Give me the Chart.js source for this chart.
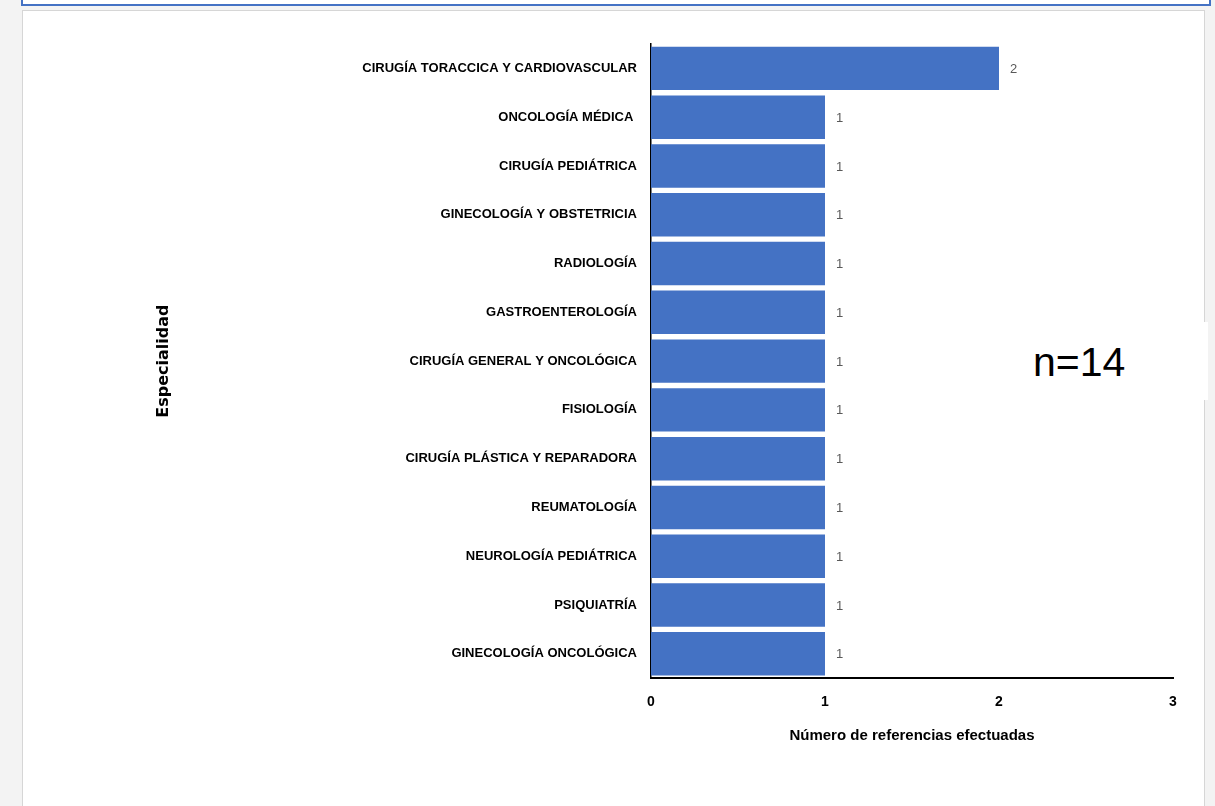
<!DOCTYPE html>
<html><head><meta charset="utf-8">
<script src="https://cdn.jsdelivr.net/npm/chart.js@4.4.0/dist/chart.umd.min.js"></script>
<style>
html,body{margin:0;padding:0;width:1215px;height:806px;overflow:hidden;background:#f3f3f3;}
#topbox{position:absolute;left:21px;top:-20px;width:1186px;height:22px;border:2px solid #4472C4;background:#fff;}
#panel{position:absolute;left:22px;top:10px;width:1181px;height:810px;background:#fff;border:1px solid #d6d6d6;}
#c{position:absolute;left:0;top:0;}
#nbox{position:absolute;left:1020px;top:322px;width:188px;height:78px;background:#fff;}
#ntext{position:absolute;left:1033px;top:341px;font-family:"Liberation Sans",Arial,sans-serif;font-size:41px;line-height:42px;color:#000;white-space:nowrap;}
</style></head>
<body>
<div id="topbox"></div>
<div id="panel"></div>
<canvas id="c" width="1215" height="806"></canvas>
<div id="nbox"></div>
<div id="ntext">n=14</div>
<script>
const categories = [
  "CIRUGÍA TORACCICA Y CARDIOVASCULAR",
  "ONCOLOGÍA MÉDICA ",
  "CIRUGÍA PEDIÁTRICA",
  "GINECOLOGÍA Y OBSTETRICIA",
  "RADIOLOGÍA",
  "GASTROENTEROLOGÍA",
  "CIRUGÍA GENERAL Y ONCOLÓGICA",
  "FISIOLOGÍA",
  "CIRUGÍA PLÁSTICA Y REPARADORA",
  "REUMATOLOGÍA",
  "NEUROLOGÍA PEDIÁTRICA",
  "PSIQUIATRÍA",
  "GINECOLOGÍA ONCOLÓGICA"
];
const referencias = [2,1,1,1,1,1,1,1,1,1,1,1,1];
const xTicks = [0,1,2,3];
const yTitle = "Especialidad";
const xTitle = "Número de referencias efectuadas";

const sans = "'Liberation Sans',Arial,sans-serif";

const valueLabels = {
  id:'valueLabels',
  afterDatasetsDraw(chart){
    const ctx = chart.ctx;
    const meta = chart.getDatasetMeta(0);
    ctx.save();
    ctx.font = "13px " + sans;
    ctx.fillStyle = "#595959";
    ctx.textAlign = "left";
    ctx.textBaseline = "middle";
    meta.data.forEach((bar,i)=>{
      ctx.fillText(String(chart.data.datasets[0].data[i]), bar.x + 11, bar.y + 1);
    });
    ctx.restore();
  }
};

new Chart(document.getElementById('c'), {
  type:'bar',
  data:{ labels:categories, datasets:[{ data:referencias, backgroundColor:'#4472C4', borderWidth:0, barPercentage:0.89, categoryPercentage:1 }]},
  options:{
    indexAxis:'y', responsive:false, animation:false, devicePixelRatio:1,
    layout:{ padding:{ left:154, right:42, top:44, bottom:61 } },
    plugins:{ legend:{display:false}, tooltip:{enabled:false} },
    scales:{
      y:{
        grid:{display:false, drawTicks:false},
        border:{display:true, color:'#000', width:1.5},
        ticks:{ color:'#000', padding:14, font:{family:sans, size:13, weight:'bold'} },
        title:{ display:true, text:yTitle, color:'#000', padding:{top:0,bottom:0}, font:{family:"'DejaVu Sans',sans-serif", size:16, weight:'bold'} },
        afterFit(scale){ scale.width = 651 - 154; }
      },
      x:{
        min:0, max:3,
        afterBuildTicks(scale){ scale.ticks = xTicks.map(v=>({value:v})); },
        grid:{display:false, drawTicks:false},
        border:{display:true, color:'#000', width:2},
        ticks:{ color:'#000', padding:16, font:{family:sans, size:14, weight:'bold'} },
        title:{ display:true, text:xTitle, color:'#000', padding:{top:0,bottom:0}, font:{family:sans, size:15, weight:'bold'} }
      }
    }
  },
  plugins:[valueLabels]
});
</script>
</body></html>
